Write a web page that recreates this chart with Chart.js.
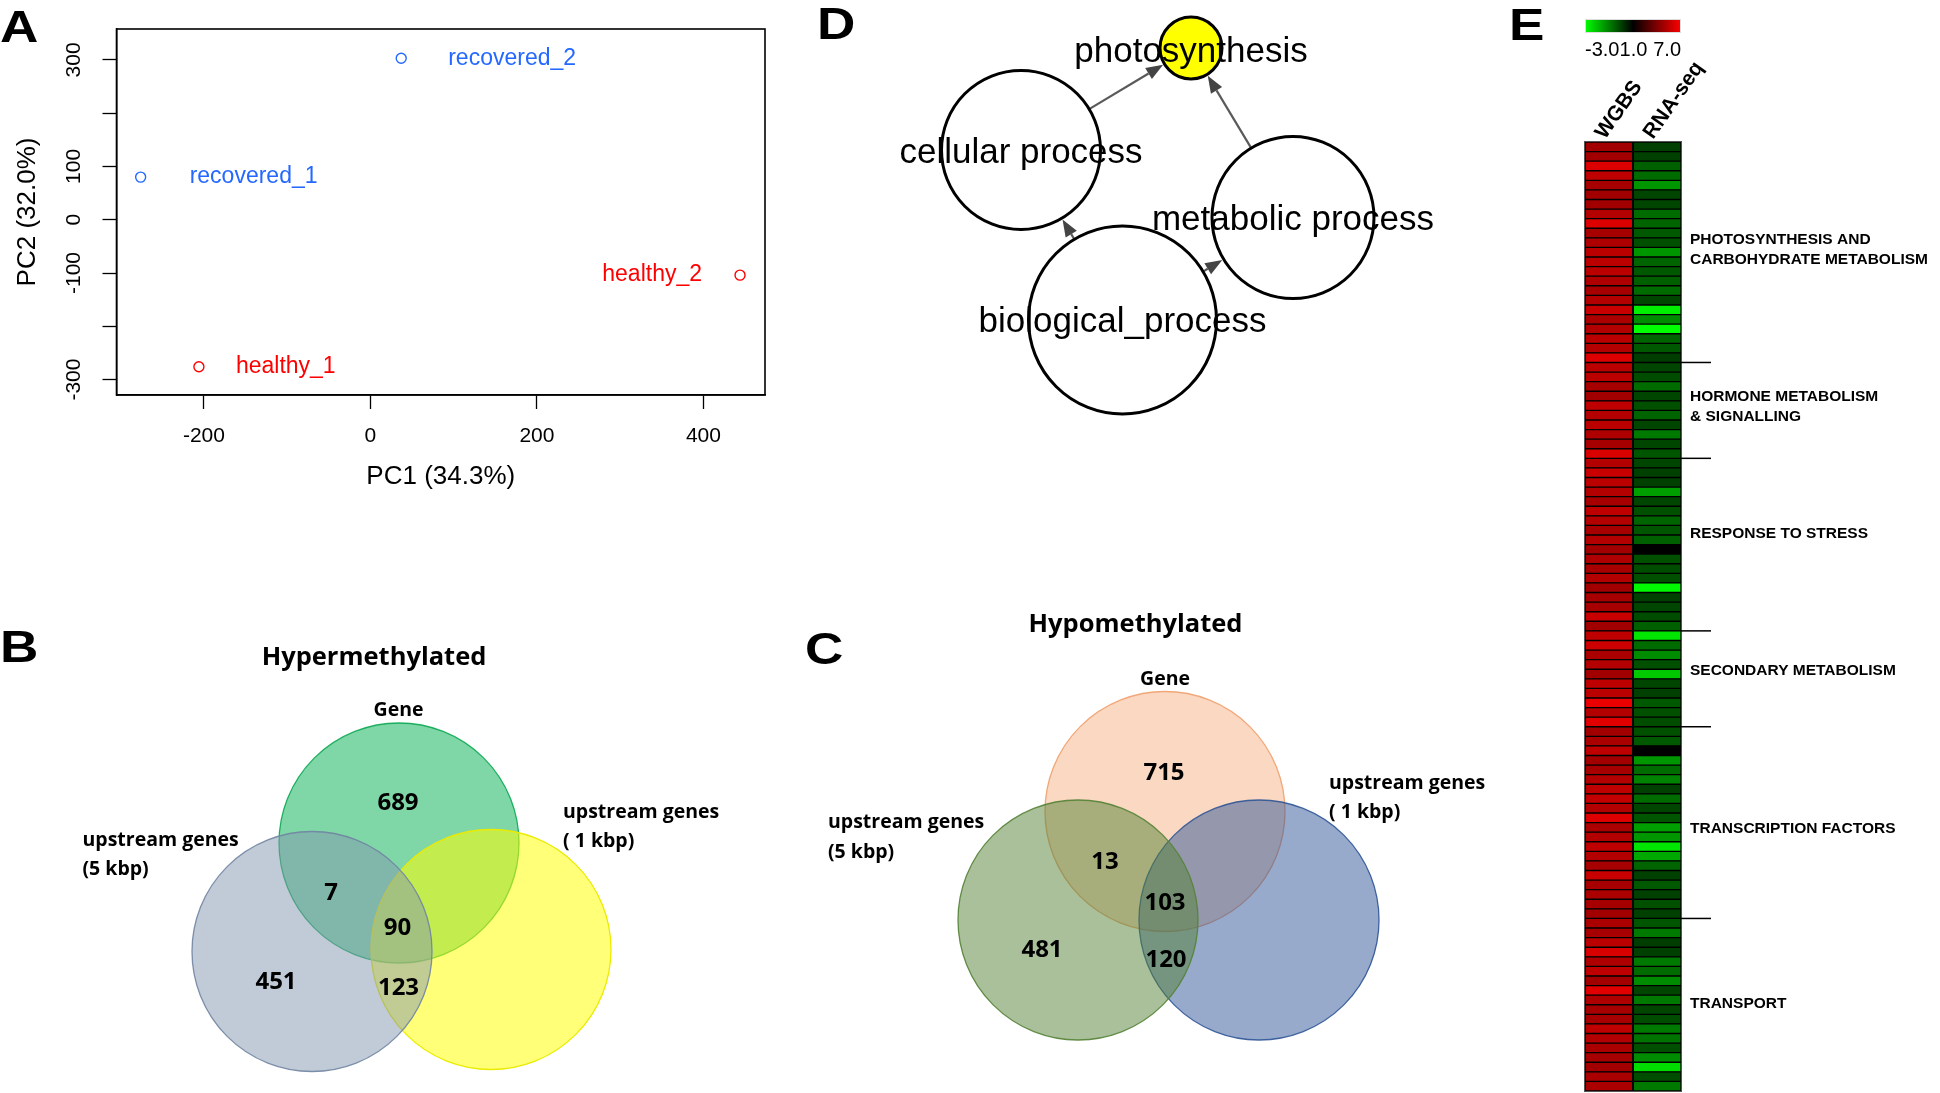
<!DOCTYPE html>
<html><head><meta charset="utf-8">
<script src="https://cdn.jsdelivr.net/npm/chart.js@4.4.0/dist/chart.umd.min.js"></script>
<style>
html,body{margin:0;padding:0;background:#fff;width:1940px;height:1093px;overflow:hidden;}
canvas{position:absolute;}
.letter{position:absolute;font-family:"Liberation Sans",Arial,sans-serif;font-weight:bold;font-size:45px;line-height:1;color:#000;transform:scaleX(1.18);transform-origin:left top;}
</style></head><body>
<div class="letter" style="left:0px;top:4px">A</div>
<div class="letter" style="left:0px;top:624px">B</div>
<div class="letter" style="left:805px;top:626px">C</div>
<div class="letter" style="left:817px;top:1px">D</div>
<div class="letter" style="left:1509px;top:2px">E</div>
<canvas id="cA" width="790" height="500" style="left:0;top:0"></canvas>
<canvas id="cD" width="600" height="430" style="left:860px;top:0"></canvas>
<canvas id="cB" width="790" height="493" style="left:0;top:600px"></canvas>
<canvas id="cC" width="760" height="493" style="left:800px;top:600px"></canvas>
<canvas id="cE" width="370" height="1093" style="left:1570px;top:0"></canvas>
<script>
// ---------------- DATA ----------------
// Panel A: PCA
const pcaSamples = ['recovered_1', 'recovered_2', 'healthy_1', 'healthy_2'];
const pcaGroups  = ['recovered', 'recovered', 'healthy', 'healthy'];
const pcaPC1 = [-276, 37, -206, 444];
const pcaPC2 = [80, 303, -276, -104];
const pcaXTicks = [-200, 0, 200, 400];
const pcaYTicks = [-300, -200, -100, 0, 100, 200, 300];
const pcaYTickLabels = ['-300', '', '-100', '0', '100', '', '300'];
const pcaXTitle = 'PC1 (34.3%)';
const pcaYTitle = 'PC2 (32.0%)';

// Panels B/C: Venn counts (Gene only, Gene∩5kbp, all three, 5kbp only, 5kbp∩1kbp)
const vennSets = ['Gene', 'upstream genes\n(5 kbp)', 'upstream genes\n( 1 kbp)'];
const hyperCounts = [689, 7, 90, 451, 123];
const hypoCounts  = [715, 13, 103, 481, 120];

// Panel D: GO network
const goTerms = ['photosynthesis', 'cellular process', 'metabolic process', 'biological_process'];
const goLayoutX = [331, 161, 433, 262.5];
const goLayoutY = [48, 150, 217.5, 320];
const goNodeSize = [31, 79.5, 81, 94];
const goEdgeFrom = [1, 2, 3, 3];
const goEdgeTo   = [0, 0, 1, 2];

// Panel E: heatmap
const heatColumns = ['WGBS', 'RNA-seq'];
const heatSections = ['PHOTOSYNTHESIS AND\nCARBOHYDRATE METABOLISM', 'HORMONE METABOLISM\n& SIGNALLING',
  'RESPONSE TO STRESS', 'SECONDARY METABOLISM', 'TRANSCRIPTION FACTORS', 'TRANSPORT'];
const heatSectionSizes = [23, 10, 18, 10, 20, 18];
const colorKeyTicks = [-3.0, 1.0, 7.0];
const wgbsValues = [
  4.8,4.8,6.2,5.5,4.9,4.8,4.8,5.2,6.2,4.9,5.1,5.4,5.4,5.4,5.1,4.9,5.2,5.7,5.0,5.2,5.4,5.2,6.2,5.4,5.4,4.9,4.8,5.5,5.2,5.4,5.1,4.9,
  6.1,5.2,5.7,5.4,5.2,4.9,5.5,5.2,4.9,5.2,4.8,5.1,4.9,5.2,4.8,4.9,4.9,5.7,4.8,5.5,5.8,5.0,5.2,4.8,5.5,5.4,6.5,5.2,6.3,4.8,5.0,5.5,
  4.8,4.9,5.2,5.5,5.6,5.2,6.2,5.0,5.2,5.5,5.2,4.9,5.7,4.9,5.0,4.9,4.8,5.0,4.9,5.4,6.1,5.1,5.5,4.8,6.3,5.1,4.9,4.9,5.5,5.2,5.0,4.9,4.8,5.0,5.0];
const rnaValues = [
  0.0,0.0,-0.5,-0.7,-1.35,-0.1,-0.1,-0.7,-0.57,-0.4,-0.25,-1.35,-0.57,-0.4,-0.5,-0.7,-0.1,-2.75,-1.2,-3.0,-0.57,-0.4,0.05,-0.1,-0.2,-0.7,-0.1,-0.25,-0.57,-0.1,-0.9,-0.1,
  -0.33,-0.1,0.0,0.0,-1.5,-0.1,-0.25,-0.57,-0.33,-0.5,1.0,-0.25,-0.2,-0.25,-2.9,0.0,-0.1,-0.2,-0.5,-2.6,-0.7,-1.2,-0.25,-2.15,-0.1,0.0,-0.4,-0.25,-0.2,-0.25,-0.4,1.0,
  -1.35,-0.7,-1.05,0.0,-0.7,-0.1,-0.33,-1.5,-1.35,-2.6,-1.65,-0.57,0.0,-0.4,0.0,-0.25,0.0,-0.33,-0.9,0.05,0.0,-0.9,-0.7,-1.2,-0.1,-0.9,-0.1,-0.2,-0.9,-0.8,-0.25,-1.2,-2.45,-0.2,-0.9];

// ---------------- STYLE / LAYOUT ----------------
const SANS = '"Liberation Sans", Arial, sans-serif';
const CAL = '"Open Sans", "Liberation Sans", sans-serif';
const groupColor = {recovered: '#2468ff', healthy: '#ff0000'};
const base = {responsive: false, animation: false, events: [],
  plugins: {legend: {display: false}, tooltip: {enabled: false}}};

function txt(ctx, s, x, y, font, color, align, baseline) {
  ctx.save(); ctx.font = font; ctx.fillStyle = color || '#000';
  ctx.textAlign = align || 'center'; ctx.textBaseline = baseline || 'middle';
  ctx.fillText(s, x, y); ctx.restore();
}

// ---------------- PANEL A ----------------
const pcaLabelDx = [49, 47, 37, -38];
new Chart(document.getElementById('cA'), {
  type: 'scatter',
  data: {datasets: [{
    data: pcaPC1.map((x, i) => ({x: x, y: pcaPC2[i]})),
    pointStyle: 'circle', pointRadius: 5, pointBorderWidth: 1.4,
    pointBackgroundColor: 'rgba(0,0,0,0)',
    pointBorderColor: pcaGroups.map(g => groupColor[g])
  }]},
  options: Object.assign({}, base, {
    layout: {autoPadding: false, padding: {top: 29, right: 25, left: 0, bottom: 0}},
    scales: {
      x: {type: 'linear', min: -305, max: 474,
        afterBuildTicks: s => { s.ticks = pcaXTicks.map(v => ({value: v})); },
        afterFit: s => { s.height = 105; },
        grid: {drawOnChartArea: false, drawTicks: true, tickLength: 14, tickColor: '#000', tickWidth: 1.3},
        border: {display: true, color: '#000', width: 1.5},
        ticks: {font: {family: SANS, size: 21}, color: '#000', padding: 15, maxRotation: 0, autoSkip: false,
          callback: v => String(v)},
        title: {display: true, text: pcaXTitle, font: {family: SANS, size: 26}, color: '#000', padding: {top: 0, bottom: 8}}
      },
      y: {type: 'linear', min: -329, max: 358,
        afterBuildTicks: s => { s.ticks = pcaYTicks.map(v => ({value: v})); },
        afterFit: s => { s.width = 116.5; },
        grid: {drawOnChartArea: false, drawTicks: true, tickLength: 14, tickColor: '#000', tickWidth: 1.3},
        border: {display: true, color: '#000', width: 1.5},
        ticks: {font: {family: SANS, size: 21}, color: '#000', padding: 7.5, minRotation: 90, maxRotation: 90,
          crossAlign: 'center', autoSkip: false,
          callback: (v, i) => pcaYTickLabels[pcaYTicks.indexOf(v)]},
        title: {display: true, text: pcaYTitle, font: {family: SANS, size: 26}, color: '#000', padding: {top: 12, bottom: 0}}
      }
    }
  }),
  plugins: [{
    id: 'pcaDecor',
    afterDatasetsDraw(chart) {
      const {ctx, chartArea: a, scales: {x, y}} = chart;
      ctx.save(); ctx.strokeStyle = '#000'; ctx.lineWidth = 1.6;
      ctx.strokeRect(a.left, a.top, a.right - a.left, a.bottom - a.top); ctx.restore();
      pcaSamples.forEach((s, i) => {
        const px = x.getPixelForValue(pcaPC1[i]) + pcaLabelDx[i];
        const py = y.getPixelForValue(pcaPC2[i]);
        txt(ctx, s, px, py, '23px ' + SANS, groupColor[pcaGroups[i]], pcaLabelDx[i] < 0 ? 'right' : 'left', 'middle');
      });
    }
  }]
});

// ---------------- PANELS B & C (Venn) ----------------
function venn(id, W, H, title, circles, counts, lay) {
  new Chart(document.getElementById(id), {
    type: 'bubble',
    data: {datasets: [{
      data: circles.map(c => ({x: c.x, y: c.y, r: c.r})),
      backgroundColor: circles.map(c => c.fill),
      borderColor: circles.map(c => c.stroke),
      borderWidth: 1.3, clip: false
    }]},
    options: Object.assign({}, base, {
      layout: {autoPadding: false, padding: 0},
      scales: {x: {display: false, min: 0, max: W}, y: {display: false, min: 0, max: H, reverse: true}}
    }),
    plugins: [{
      id: 'vennText',
      afterDatasetsDraw(chart) {
        const {ctx, scales: {x, y}} = chart;
        const P = (p) => [x.getPixelForValue(p[0]), y.getPixelForValue(p[1])];
        let q = P(lay.title); txt(ctx, title, q[0], q[1], 'bold 25.5px ' + CAL, '#000');
        lay.sets.forEach((p, k) => {
          const lines = vennSets[k].split('\n');
          lines.forEach((ln, j) => {
            const qq = P([p.x, p.y[j]]);
            txt(ctx, ln, qq[0], qq[1], 'bold 19.5px ' + CAL, '#000', p.align);
          });
        });
        counts.forEach((n, k) => {
          const qq = P(lay.counts[k]);
          txt(ctx, String(n), qq[0], qq[1], 'bold 24px ' + CAL, '#000');
        });
      }
    }]
  });
}
venn('cB', 790, 493, 'Hypermethylated', [
  {x: 399, y: 243, r: 120, fill: 'rgba(0,176,80,0.5)', stroke: 'rgba(0,165,75,0.85)'},
  {x: 491, y: 349.5, r: 120, fill: 'rgba(255,255,0,0.53)', stroke: 'rgba(235,235,0,1)'},
  {x: 312, y: 351.5, r: 120, fill: 'rgba(132,151,176,0.5)', stroke: 'rgba(112,132,162,0.9)'}
], hyperCounts, {
  title: [374, 58],
  sets: [{x: 398.5, y: [110], align: 'center'}, {x: 82.5, y: [240, 269], align: 'left'}, {x: 563, y: [212, 241], align: 'left'}],
  counts: [[398, 203], [331, 293], [397.5, 328], [276, 382], [398.5, 388]]
});
venn('cC', 760, 493, 'Hypomethylated', [
  {x: 365, y: 211.5, r: 120, fill: 'rgba(237,125,49,0.3)', stroke: 'rgba(240,160,110,0.9)'},
  {x: 459, y: 320, r: 120, fill: 'rgba(47,85,151,0.5)', stroke: 'rgba(47,85,151,0.9)'},
  {x: 278, y: 320, r: 120, fill: 'rgba(84,130,53,0.5)', stroke: 'rgba(84,130,53,0.9)'}
], hypoCounts, {
  title: [335.5, 25],
  sets: [{x: 365, y: [79], align: 'center'}, {x: 28, y: [222, 252], align: 'left'}, {x: 529, y: [183, 212], align: 'left'}],
  counts: [[364, 173], [305, 262], [365, 303], [242, 350], [366, 360]]
});

// ---------------- PANEL D (GO network) ----------------
const goLabelDy = [4, 3, 2.5, 2];
new Chart(document.getElementById('cD'), {
  type: 'bubble',
  data: {datasets: [{
    data: goTerms.map((t, i) => ({x: goLayoutX[i], y: goLayoutY[i], r: goNodeSize[i]})),
    backgroundColor: goTerms.map((t, i) => i === 0 ? '#ffff00' : '#ffffff'),
    borderColor: '#000', borderWidth: 3, clip: false
  }]},
  options: Object.assign({}, base, {
    layout: {autoPadding: false, padding: 0},
    scales: {x: {display: false, min: 0, max: 600}, y: {display: false, min: 0, max: 430, reverse: true}}
  }),
  plugins: [{
    id: 'goEdges',
    beforeDatasetsDraw(chart) {
      const {ctx, scales: {x, y}} = chart;
      goEdgeFrom.forEach((f, k) => {
        const t = goEdgeTo[k];
        const x1 = x.getPixelForValue(goLayoutX[f]), y1 = y.getPixelForValue(goLayoutY[f]);
        const x2 = x.getPixelForValue(goLayoutX[t]), y2 = y.getPixelForValue(goLayoutY[t]);
        const d = Math.hypot(x2 - x1, y2 - y1), ux = (x2 - x1) / d, uy = (y2 - y1) / d;
        const sx = x1 + ux * goNodeSize[f], sy = y1 + uy * goNodeSize[f];
        const tx = x2 - ux * (goNodeSize[t] + 1.5), ty = y2 - uy * (goNodeSize[t] + 1.5);
        const L = 17, hw = 6.5;
        const bx = tx - ux * L, by = ty - uy * L;
        ctx.save();
        ctx.strokeStyle = '#5a5a5a'; ctx.lineWidth = 2.2;
        ctx.beginPath(); ctx.moveTo(sx, sy); ctx.lineTo(bx, by); ctx.stroke();
        ctx.fillStyle = '#444';
        ctx.beginPath(); ctx.moveTo(tx, ty);
        ctx.lineTo(bx - uy * hw, by + ux * hw); ctx.lineTo(bx + uy * hw, by - ux * hw);
        ctx.closePath(); ctx.fill(); ctx.restore();
      });
    },
    afterDatasetsDraw(chart) {
      const {ctx, scales: {x, y}} = chart;
      goTerms.forEach((t, i) => {
        txt(ctx, t, x.getPixelForValue(goLayoutX[i]), y.getPixelForValue(goLayoutY[i]) + goLabelDy[i], '35px ' + SANS, '#000');
      });
    }
  }]
});

// ---------------- PANEL E (heatmap) ----------------
function heatColor(v) {
  const [lo, mid, hi] = colorKeyTicks;
  if (v >= mid) { const t = Math.min(1, (v - mid) / (hi - mid)); return 'rgb(' + Math.round(255 * t) + ',0,0)'; }
  const t = Math.min(1, (mid - v) / (mid - lo)); return 'rgb(0,' + Math.round(255 * t) + ',0)';
}
const heatRows = wgbsValues.map((v, i) => 'gene ' + (i + 1));
const sectionDy = [-3, -4, -11, -8, 6, -1];
new Chart(document.getElementById('cE'), {
  type: 'bar',
  data: {labels: heatRows, datasets: [
    {label: heatColumns[0], data: wgbsValues.map(() => [0, 1]), backgroundColor: wgbsValues.map(heatColor)},
    {label: heatColumns[1], data: rnaValues.map(() => [1, 2]), backgroundColor: rnaValues.map(heatColor)}
  ]},
  options: Object.assign({}, base, {
    indexAxis: 'y',
    layout: {autoPadding: false, padding: {left: 15, right: 259, top: 0, bottom: 2}},
    datasets: {bar: {grouped: false, categoryPercentage: 1, barPercentage: 1, borderWidth: 1, borderColor: '#000', borderSkipped: false}},
    scales: {
      y: {type: 'category', display: false},
      x: {type: 'linear', position: 'top', min: 0, max: 2,
        afterBuildTicks: s => { s.ticks = [{value: 0.5}, {value: 1.5}]; },
        afterFit: s => { s.height = 142; },
        grid: {display: false}, border: {display: false},
        ticks: {autoSkip: false, minRotation: 55, maxRotation: 55, padding: -10, labelOffset: 12,
          font: {family: SANS, size: 21, weight: 'bold'}, color: '#000',
          callback: (v, i) => heatColumns[i]}
      }
    }
  }),
  plugins: [{
    id: 'heatDecor',
    beforeDatasetsDraw(chart) {
      const {ctx, chartArea: a} = chart;
      ctx.save(); ctx.fillStyle = '#000'; ctx.fillRect(a.left, a.top, a.right - a.left, a.bottom - a.top); ctx.restore();
    },
    afterDatasetsDraw(chart) {
      const {ctx, chartArea: a, scales: {y}} = chart;
      ctx.save(); ctx.strokeStyle = '#555'; ctx.lineWidth = 1;
      ctx.strokeRect(a.left - 0.5, a.top - 0.5, a.right - a.left + 1, a.bottom - a.top + 1);
      ctx.fillStyle = '#000'; ctx.fillRect((a.left + a.right) / 2 - 1, a.top, 2, a.bottom - a.top);
      ctx.restore();
      // colour key
      const kx0 = a.left, kx1 = a.right, ky0 = 19, ky1 = 33;
      const g = ctx.createLinearGradient(kx0, 0, kx1, 0);
      const [lo, mid, hi] = colorKeyTicks;
      for (let k = 0; k <= 20; k++) {
        const f = k / 20;
        const v = f <= 0.5 ? lo + (mid - lo) * f * 2 : mid + (hi - mid) * (f - 0.5) * 2;
        g.addColorStop(f, heatColor(v));
      }
      ctx.save(); ctx.fillStyle = g; ctx.fillRect(kx0, ky0, kx1 - kx0, ky1 - ky0);
      ctx.strokeStyle = '#ddd'; ctx.lineWidth = 1; ctx.strokeRect(kx0 + 0.5, ky0 + 0.5, kx1 - kx0 - 1, ky1 - ky0 - 1); ctx.restore();
      txt(ctx, colorKeyTicks[0].toFixed(1), kx0, 50, '20px ' + SANS, '#000', 'left');
      txt(ctx, colorKeyTicks[1].toFixed(1), kx0 + 48.5, 50, '20px ' + SANS, '#000', 'center');
      txt(ctx, colorKeyTicks[2].toFixed(1), kx1, 50, '20px ' + SANS, '#000', 'right');
      // sections
      const band = y.getPixelForValue(1) - y.getPixelForValue(0);
      let start = 0;
      heatSections.forEach((name, k) => {
        const n = heatSectionSizes[k];
        const top = y.getPixelForValue(start) - band / 2;
        const bot = y.getPixelForValue(start + n - 1) + band / 2;
        if (k < heatSections.length - 1) {
          ctx.save(); ctx.strokeStyle = '#000'; ctx.lineWidth = 1.5;
          ctx.beginPath(); ctx.moveTo(a.right, bot); ctx.lineTo(a.right + 30, bot); ctx.stroke(); ctx.restore();
        }
        const lines = name.split('\n');
        const cy = (top + bot) / 2 + sectionDy[k];
        lines.forEach((ln, j) => {
          txt(ctx, ln, a.right + 9, cy + (j - (lines.length - 1) / 2) * 20, 'bold 15.5px ' + SANS, '#000', 'left');
        });
        start += n;
      });
    }
  }]
});
</script>
</body></html>
